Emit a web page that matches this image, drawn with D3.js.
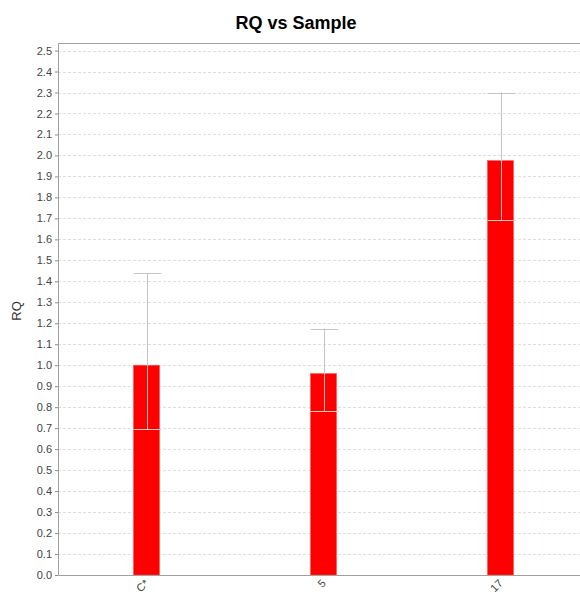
<!DOCTYPE html>
<html>
<head>
<meta charset="utf-8">
<script src="https://cdn.jsdelivr.net/npm/d3@7"></script>
<style>
  body { margin: 0; background: #fff; }
  svg { display: block; font-family: "Liberation Sans", Arial, sans-serif; }
</style>
</head>
<body>
<div id="chart"></div>
<script>
// data
const samples = ['C*', '5', '17'];
const rq      = [1.00, 0.96, 1.975];
const rqMin   = [0.695, 0.78, 1.69];
const rqMax   = [1.44, 1.175, 2.30];
const yTicks  = d3.range(0, 26).map(d => d / 10);

const width = 580, height = 597;
const plot = { left: 58, top: 43, right: 589, bottom: 575 };

const svg = d3.select('#chart').append('svg')
  .attr('width', width)
  .attr('height', height);

const y = d3.scaleLinear().domain([0, 2.536]).range([plot.bottom, plot.top]);
const x = d3.scaleBand().domain(samples).range([plot.left, plot.right]);
const barW = 26;

// grid lines
svg.append('g').selectAll('line')
  .data(yTicks.slice(1))
  .enter().append('line')
  .attr('x1', plot.left).attr('x2', plot.right)
  .attr('y1', d => Math.round(y(d)) + 0.5).attr('y2', d => Math.round(y(d)) + 0.5)
  .attr('stroke', '#dedede')
  .attr('stroke-dasharray', '3,2');

// bars
svg.append('g').selectAll('rect')
  .data(samples)
  .enter().append('rect')
  .attr('x', d => x(d) + x.bandwidth() / 2 - barW / 2)
  .attr('y', (d, i) => y(rq[i]))
  .attr('width', barW)
  .attr('height', (d, i) => y(0) - y(rq[i]))
  .attr('fill', '#ff0000')
  .attr('stroke', '#ff4d4d')
  .attr('stroke-width', 0.6);

// error bars
const err = svg.append('g').attr('stroke', '#c4c4c4').attr('stroke-width', 1);
samples.forEach((s, i) => {
  const cx = Math.round(x(s) + x.bandwidth() / 2) + 0.5;
  err.append('line').attr('x1', cx).attr('x2', cx)
    .attr('y1', y(rqMin[i])).attr('y2', y(rqMax[i]));
  [rqMin[i], rqMax[i]].forEach(v => {
    err.append('line')
      .attr('x1', cx - 14).attr('x2', cx + 14)
      .attr('y1', Math.round(y(v)) + 0.5).attr('y2', Math.round(y(v)) + 0.5)
      .attr('stroke', v === rqMin[i] ? '#f0c8c8' : '#c4c4c4');
  });
});

// plot frame (top + left + bottom)
svg.append('path')
  .attr('d', `M${plot.right},${plot.top + 0.5}H${plot.left + 0.5}V${plot.bottom + 0.5}H${plot.right}`)
  .attr('fill', 'none')
  .attr('stroke', '#a0a0a0');

// y axis
const yAxis = svg.append('g')
  .attr('transform', `translate(${plot.left},0)`)
  .call(d3.axisLeft(y).tickValues(yTicks).tickFormat(d3.format('.1f')).tickSize(3).tickPadding(3));
yAxis.select('.domain').remove();
yAxis.selectAll('line').attr('stroke', '#888');
yAxis.selectAll('text').attr('font-size', 11).attr('fill', '#444');

// x axis labels (rotated up 45°)
svg.append('g').selectAll('text')
  .data(samples)
  .enter().append('text')
  .attr('transform', d => `translate(${x(d) + x.bandwidth() / 2 + 3},${plot.bottom + 9}) rotate(-45)`)
  .attr('text-anchor', 'end')
  .attr('font-size', 11)
  .attr('fill', '#444')
  .text(d => d);

// y axis title
svg.append('text')
  .attr('transform', `translate(21,${(plot.top + plot.bottom) / 2 + 2}) rotate(-90)`)
  .attr('text-anchor', 'middle')
  .attr('font-size', 13)
  .attr('fill', '#333')
  .text('RQ');

// title
svg.append('text')
  .attr('x', 296).attr('y', 29)
  .attr('text-anchor', 'middle')
  .attr('font-size', 18)
  .attr('font-weight', 'bold')
  .attr('fill', '#000')
  .text('RQ vs Sample');
</script>
</body>
</html>
